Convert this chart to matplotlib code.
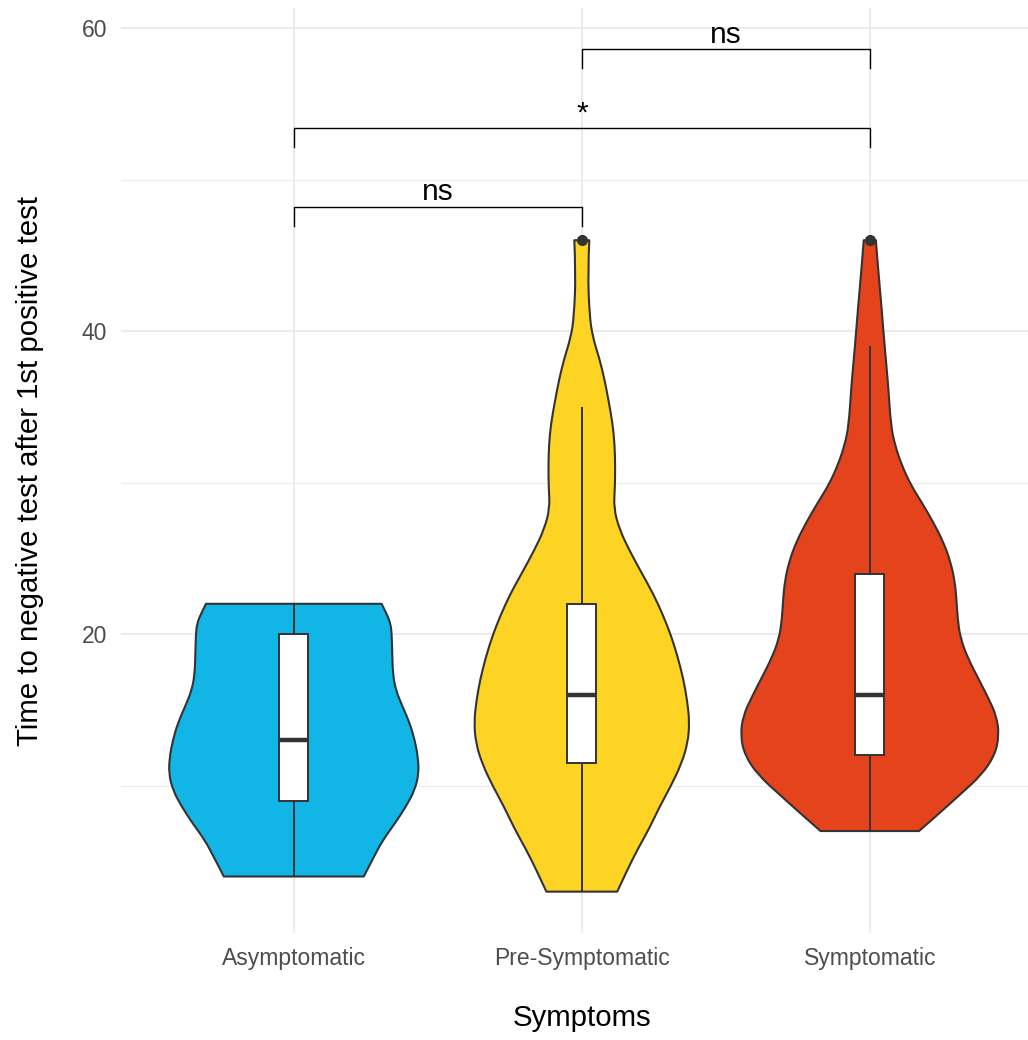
import numpy as np
import matplotlib.pyplot as plt
from matplotlib.path import Path
from matplotlib.patches import PathPatch, Rectangle

plt.rcParams["font.family"] = ["Liberation Sans", "DejaVu Sans"]

# ---- data ----
groups = ["Asymptomatic", "Pre-Symptomatic", "Symptomatic"]

# violin outlines: day value -> half width (category units)
asym_y = [4.0, 5.3, 6.4, 7.5, 8.6, 9.7, 10.8, 11.9, 13.0, 14.1, 15.2, 16.3, 17.4, 18.6, 20.0, 20.7, 21.4, 22.0]
asym_w = [0.243, 0.278, 0.309, 0.351, 0.389, 0.420, 0.434, 0.431, 0.420, 0.403, 0.378, 0.354, 0.344, 0.342, 0.340, 0.336, 0.321, 0.305]

pre_y = [3.0, 4.4, 5.8, 7.2, 8.6, 10.0, 11.4, 12.8, 14.2, 15.6, 17.0, 18.5, 19.9, 21.3, 22.7, 24.1,
         25.5, 26.9, 28.3, 29.7, 31.1, 32.5, 33.9, 35.4, 36.8, 38.2, 39.6, 41.0, 43.8, 46.0]
pre_w = [0.123, 0.157, 0.194, 0.235, 0.270, 0.310, 0.345, 0.368, 0.374, 0.366, 0.353, 0.333, 0.310, 0.281, 0.247, 0.206,
         0.166, 0.131, 0.111, 0.115, 0.116, 0.114, 0.107, 0.093, 0.079, 0.061, 0.038, 0.027, 0.021, 0.026]

sym_y = [7.0, 8.2, 9.4, 10.7, 12.0, 13.3, 14.6, 15.8, 17.1, 18.4, 19.7, 21.0, 22.3, 23.5, 24.8, 26.1,
         27.4, 28.7, 29.9, 31.2, 32.5, 33.8, 36.4, 38.9, 41.5, 44.1, 46.0]
sym_w = [0.171, 0.243, 0.313, 0.388, 0.434, 0.449, 0.440, 0.411, 0.376, 0.341, 0.315, 0.305, 0.301, 0.295, 0.280, 0.255,
         0.220, 0.180, 0.141, 0.110, 0.087, 0.073, 0.064, 0.052, 0.041, 0.029, 0.021]

viol_y = [asym_y, pre_y, sym_y]
viol_w = [asym_w, pre_w, sym_w]

# box statistics
w_lo = [4, 3, 7]
q1 = [9, 11.5, 12]
med = [13, 16, 16]
q3 = [20, 22, 24]
w_hi = [22, 35, 39]
outliers = [[], [46], [46]]

# significance brackets
pairs = [(0, 1), (0, 2), (1, 2)]
br_y = [48.2, 53.4, 58.6]
br_lab = ["ns", "*", "ns"]

# ---- style ----
FILLS = ["#12B6E6", "#FDD324", "#E5431C"]
EDGE = "#333333"
GRID = "#EBEBEB"
TICK = "#4D4D4D"


def violin_path(y, w, c):
    right = [(c + wi, yi) for yi, wi in zip(y, w)]
    left = [(c - wi, yi) for yi, wi in zip(y[::-1], w[::-1])]
    verts, codes = [], []
    for k, pts in enumerate([right, left]):
        verts.append(pts[0])
        codes.append(Path.MOVETO if k == 0 else Path.LINETO)
        for i in range(1, len(pts) - 1):
            if i == len(pts) - 2:
                end = pts[-1]
            else:
                end = ((pts[i][0] + pts[i + 1][0]) / 2, (pts[i][1] + pts[i + 1][1]) / 2)
            verts += [pts[i], end]
            codes += [Path.CURVE3, Path.CURVE3]
    verts.append(right[0])
    codes.append(Path.CLOSEPOLY)
    return Path(verts, codes)


fig = plt.figure(figsize=(10.28, 10.4), dpi=100)
ax = fig.add_axes([121 / 1028, 1 - 933 / 1040, 1 - 121 / 1028, (933 - 8) / 1040])

pos = np.arange(1, len(groups) + 1)
for i, c in enumerate(pos):
    ax.add_patch(PathPatch(violin_path(viol_y[i], viol_w[i], c), facecolor=FILLS[i],
                           edgecolor=EDGE, lw=1.5, joinstyle="round", zorder=3))
    # whiskers
    ax.plot([c, c], [w_lo[i], q1[i]], color=EDGE, lw=1.4, zorder=4, solid_capstyle="butt")
    ax.plot([c, c], [q3[i], w_hi[i]], color=EDGE, lw=1.4, zorder=4, solid_capstyle="butt")
    ax.add_patch(Rectangle((c - 0.05, q1[i]), 0.1, q3[i] - q1[i], facecolor="white",
                           edgecolor=EDGE, lw=1.4, zorder=5))
    ax.plot([c - 0.05, c + 0.05], [med[i], med[i]], color=EDGE, lw=3.2, zorder=6,
            solid_capstyle="butt")
    if outliers[i]:
        ax.plot([c] * len(outliers[i]), outliers[i], "o", color=EDGE, ms=7, zorder=7)

# brackets
for (a, b), yb, lab in zip(pairs, br_y, br_lab):
    xa, xb = pos[a], pos[b]
    ax.plot([xa, xa, xb, xb], [yb - 1.25, yb, yb, yb - 1.25], color="black", lw=1.0, zorder=6)
    ax.text((xa + xb) / 2, yb + 0.45, lab, ha="center", va="baseline", fontsize=21.5, zorder=6)

ax.set_xlim(0.4, 0.4 + 907 / 288)
ax.set_ylim(0.27, 61.33)
ax.set_xticks(pos)
ax.set_xticklabels(groups)
ax.set_yticks([20, 40, 60])
ax.set_yticks([10, 30, 50], minor=True)
ax.tick_params(axis="both", which="both", length=0, labelsize=16.5, labelcolor=TICK, pad=10)
ax.grid(which="major", color=GRID, lw=1.4, zorder=0)
ax.grid(which="minor", axis="y", color=GRID, lw=0.8, zorder=0)
ax.set_axisbelow(True)
for s in ax.spines.values():
    s.set_visible(False)

ax.set_xlabel("Symptoms", fontsize=21.2)
ax.xaxis.set_label_coords((582 - 121) / 907, -0.077)
ax.set_ylabel("Time to negative test after 1st positive test", fontsize=21.2, labelpad=27)

fig.savefig("out.png", dpi=100, facecolor="white")
